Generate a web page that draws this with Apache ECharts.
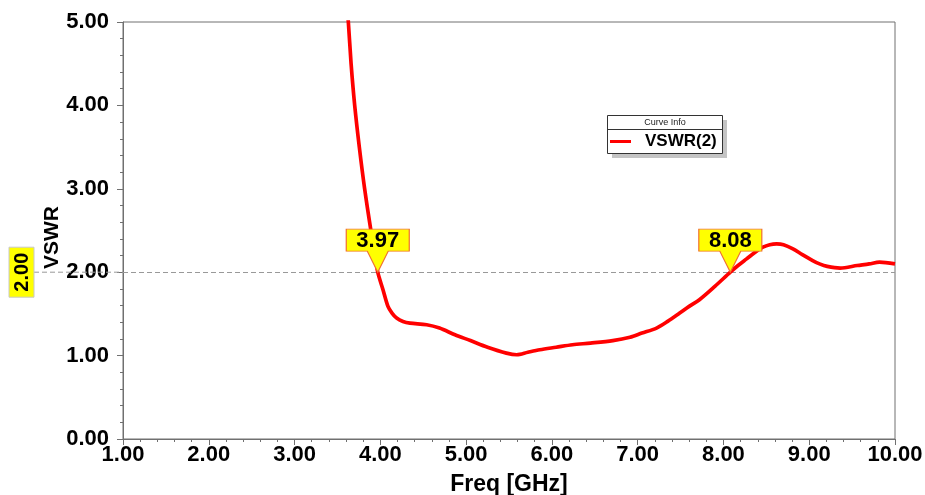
<!DOCTYPE html>
<html>
<head>
<meta charset="utf-8">
<script src="https://cdn.jsdelivr.net/npm/echarts@6/dist/echarts.min.js"></script>
<style>
html,body{margin:0;padding:0;background:#fff;}
#chart{width:925px;height:495px;}
</style>
</head>
<body>
<div id="chart"></div>
<script>
// ---- data ----
const freqGHz = [3.60, 3.627, 3.659, 3.701, 3.755, 3.817, 3.89, 3.931, 3.97, 4.031, 4.089, 4.136, 4.19, 4.264, 4.346, 4.54, 4.69, 4.87, 5.05, 5.25, 5.47, 5.59, 5.72, 5.86, 6.05, 6.24, 6.45, 6.71, 6.91, 7.05, 7.22, 7.35, 7.49, 7.6, 7.72, 7.9, 8.08, 8.17, 8.27, 8.37, 8.46, 8.54, 8.62, 8.7, 8.81, 8.92, 9.04, 9.12, 9.21, 9.36, 9.56, 9.7, 9.82, 10.0];
const vswr = [5.3, 5.0, 4.5, 4.0, 3.5, 3.0, 2.5, 2.25, 2.0, 1.79, 1.59, 1.51, 1.45, 1.41, 1.39, 1.37, 1.33, 1.25, 1.18, 1.10, 1.03, 1.01, 1.04, 1.07, 1.10, 1.13, 1.15, 1.18, 1.22, 1.27, 1.33, 1.41, 1.51, 1.59, 1.67, 1.83, 2.0, 2.08, 2.16, 2.24, 2.30, 2.33, 2.34, 2.33, 2.28, 2.21, 2.14, 2.10, 2.07, 2.05, 2.08, 2.10, 2.12, 2.10];
const seriesName = 'VSWR(2)';
const markerFreqs = [3.97, 8.08];
const refLevel = 2.0;
const xTickMin = 1, xTickMax = 10, xTickStep = 1;
const yTickMin = 0, yTickMax = 5, yTickStep = 1;
const xAxisTitle = 'Freq [GHz]';
const yAxisTitle = 'VSWR';
const legendTitle = 'Curve Info';

const FONT = '"Liberation Sans", Arial, sans-serif';
const AXIS_COLOR = '#707070';

const chart = echarts.init(document.getElementById('chart'), null, {renderer: 'canvas'});

const points = freqGHz.map((f, i) => [f, vswr[i]]);

const option = {
  animation: false,
  backgroundColor: '#ffffff',
  grid: {left: 123, right: 30, top: 22, bottom: 56, show: true, borderColor: AXIS_COLOR, borderWidth: 1,
    backgroundColor: 'transparent', containLabel: false, outerBoundsMode: 'none'},
  xAxis: {
    type: 'value', min: xTickMin, max: xTickMax, interval: xTickStep,
    name: xAxisTitle, nameLocation: 'middle', nameGap: 34, nameMoveOverlap: false,
    nameTextStyle: {fontFamily: FONT, fontWeight: 'bold', fontSize: 23, color: '#000'},
    axisLine: {show: true, lineStyle: {color: AXIS_COLOR, width: 1}},
    axisTick: {show: true, length: 6, lineStyle: {color: AXIS_COLOR}},
    minorTick: {show: true, splitNumber: 5, length: 3, lineStyle: {color: AXIS_COLOR}},
    splitLine: {show: false},
    axisLabel: {fontFamily: FONT, fontWeight: 'bold', fontSize: 22, color: '#000', margin: 5,
      formatter: v => v.toFixed(2)}
  },
  yAxis: {
    type: 'value', min: yTickMin, max: yTickMax, interval: yTickStep,
    name: yAxisTitle, nameLocation: 'middle', nameGap: 60, nameRotate: 90, nameMoveOverlap: false,
    nameTextStyle: {fontFamily: FONT, fontWeight: 'bold', fontSize: 21, color: '#000', padding: [0, 14, 0, 0]},
    axisLine: {show: true, lineStyle: {color: AXIS_COLOR, width: 1}},
    axisTick: {show: true, length: 6, lineStyle: {color: AXIS_COLOR}},
    minorTick: {show: true, splitNumber: 5, length: 3, lineStyle: {color: AXIS_COLOR}},
    splitLine: {show: false},
    axisLabel: {fontFamily: FONT, fontWeight: 'bold', fontSize: 22, color: '#000', margin: 14,
      formatter: v => v.toFixed(2)}
  },
  legend: {
    show: true, left: 610, top: 133, padding: 0,
    data: [seriesName],
    icon: 'rect', itemWidth: 21, itemHeight: 3,
    textStyle: {fontFamily: FONT, fontWeight: 'bold', fontSize: 17, color: '#000', padding: [0, 0, 0, 9]},
    selectedMode: false
  },
  series: [{
    name: seriesName,
    type: 'line',
    data: points,
    showSymbol: false,
    smooth: 0.3,
    clip: true,
    lineStyle: {color: '#ff0000', width: 3.7},
    itemStyle: {color: '#ff0000'},
    z: 3,
    markLine: {
      silent: true, symbol: 'none',
      lineStyle: {color: '#999999', type: [5, 3], width: 1},
      label: {show: false},
      data: [{yAxis: refLevel}],
      z: 2
    },
    markPoint: {
      silent: true,
      symbol: 'path://M0,0 H63 V22 H42 L31.5,43 L21,22 H0 Z',
      symbolSize: [63, 43],
      symbolOffset: [0, '-50%'],
      itemStyle: {color: '#ffff00', borderColor: '#f07030', borderWidth: 1},
      label: {show: true, position: 'inside', offset: [0, -10], fontFamily: FONT, fontWeight: 'bold', fontSize: 22, color: '#000',
        formatter: p => p.data.label_},
      data: markerFreqs.map(f => ({coord: [f, refLevel], label_: f.toFixed(2)})),
      z: 5
    }
  }]
};
chart.setOption(option);

// decorations: reference-level tag outside the axis and the legend frame
const yPix = chart.convertToPixel({yAxisIndex: 0}, refLevel);
const gridLeft = chart.convertToPixel({xAxisIndex: 0}, xTickMin);
chart.setOption({
  graphic: [
    {type: 'line', shape: {x1: 34, y1: yPix, x2: gridLeft, y2: yPix}, style: {stroke: '#999999', lineDash: [5, 3], lineWidth: 1}, z: 1},
    {type: 'rect', shape: {x: 9, y: yPix - 25, width: 25, height: 50}, style: {fill: '#ffff00', stroke: '#c8c8c8', lineWidth: 1}, z: 2},
    {type: 'text', x: 22, y: yPix, rotation: Math.PI / 2,
      style: {text: refLevel.toFixed(2), font: 'bold 20px ' + FONT, fill: '#000', align: 'center', verticalAlign: 'middle'}, z: 3},
    // legend box
    {type: 'rect', shape: {x: 612, y: 120, width: 115, height: 38}, style: {fill: '#c4c4c4'}, z: 0},
    {type: 'rect', shape: {x: 607.5, y: 115.5, width: 115, height: 38}, style: {fill: '#ffffff', stroke: '#333333', lineWidth: 1}, z: 1},
    {type: 'line', shape: {x1: 607.5, y1: 129.5, x2: 722.5, y2: 129.5}, style: {stroke: '#333333', lineWidth: 1}, z: 2},
    {type: 'text', x: 665, y: 122.5, style: {text: legendTitle, font: '9px ' + FONT, fill: '#222', align: 'center', verticalAlign: 'middle'}, z: 2}
  ]
});
</script>
</body>
</html>
